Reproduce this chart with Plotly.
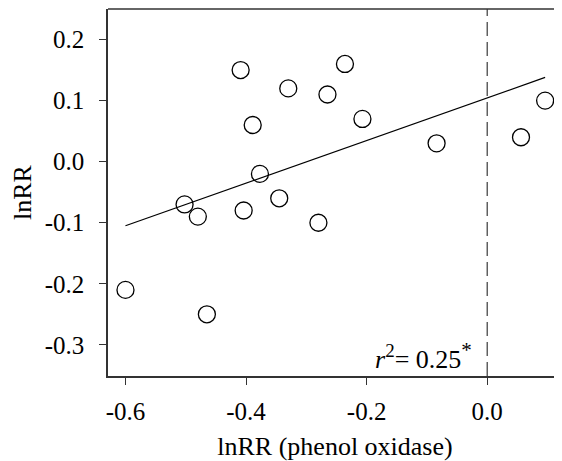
import plotly.graph_objects as go

# Data
x_po = [-0.600, -0.465, -0.502, -0.480, -0.409, -0.389, -0.377, -0.404, -0.345,
        -0.330, -0.280, -0.265, -0.236, -0.207, -0.084, 0.056, 0.096]
y_lnrr = [-0.21, -0.25, -0.07, -0.09, 0.15, 0.06, -0.02, -0.08, -0.06,
          0.12, -0.10, 0.11, 0.16, 0.07, 0.03, 0.04, 0.10]

fit_x = [-0.600, 0.096]
fit_y = [-0.105, 0.138]

x_ticks = [-0.6, -0.4, -0.2, 0.0]
x_ticktext = ["-0.6", "-0.4", "-0.2", "0.0"]
y_ticks = [-0.3, -0.2, -0.1, 0.0, 0.1, 0.2]
y_ticktext = ["-0.3", "-0.2", "-0.1", "0.0", "0.1", "0.2"]

x_range = [-0.629, 0.124]
y_range = [-0.351, 0.25]

FONT = "Liberation Serif"
FS = 25
FT = 26

fig = go.Figure()
fig.add_trace(go.Scatter(x=fit_x, y=fit_y, mode="lines",
                         line=dict(color="black", width=1.2), showlegend=False))
fig.add_trace(go.Scatter(x=x_po, y=y_lnrr, mode="markers",
                         marker=dict(symbol="circle-open", size=17,
                                     color="black", line=dict(width=1.3)),
                         showlegend=False))

# vertical dashed reference line at x = 0
fig.add_trace(go.Scatter(x=[0, 0], y=y_range, mode="lines",
                         line=dict(color="#555555", width=1.4, dash="14px,6px"),
                         showlegend=False))

fig.add_annotation(xref="paper", yref="paper", x=0.806, y=0.0,
                   xanchor="right", yanchor="bottom", yshift=0,
                   text="<i>r</i><sup><span style='font-size:19px'>2</span></sup>= 0.25"
                        "<sup><span style='font-size:21px'>*</span></sup>",
                   showarrow=False, font=dict(family=FONT, size=FT, color="black"))

# page body has an 8px margin, so the figure is shifted by (8, 8)
fig.update_layout(
    width=554, height=453,
    margin=dict(l=100, r=0, t=1, b=85),
    paper_bgcolor="white", plot_bgcolor="white",
    font=dict(family=FONT, size=FS, color="black"),
    showlegend=False,
)
fig.update_xaxes(range=x_range, tickvals=x_ticks, ticktext=x_ticktext,
                 automargin=False,
                 showgrid=False, zeroline=False,
                 showline=True, linecolor="#333333", linewidth=1.5,
                 mirror=False, ticks="outside", ticklen=7, tickwidth=1.2,
                 tickcolor="#333333", ticklabelstandoff=5,
                 title=dict(text="lnRR (phenol oxidase)", standoff=15,
                            font=dict(family=FONT, size=FT)))
fig.update_yaxes(range=y_range, tickvals=y_ticks, ticktext=y_ticktext,
                 automargin=False,
                 showgrid=False, zeroline=False,
                 showline=True, linecolor="#333333", linewidth=1.5,
                 ticks="outside", ticklen=7, tickwidth=1.2, tickcolor="#333333",
                 ticklabelstandoff=10,
                 title=dict(text="lnRR", standoff=25,
                            font=dict(family=FONT, size=FT)))

# top border line (no right border in the reference)
fig.add_shape(type="line", xref="paper", yref="paper", x0=0, x1=1, y0=1, y1=1,
              line=dict(color="#333333", width=1.5))

fig.write_html("out.html")
